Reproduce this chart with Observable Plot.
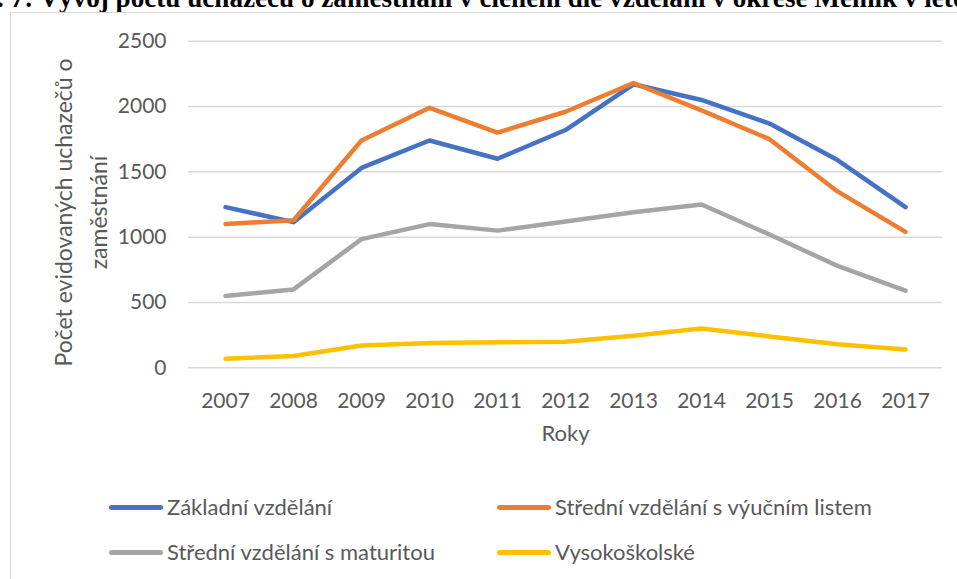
<!DOCTYPE html>
<html><head><meta charset="utf-8">
<script src="https://cdn.jsdelivr.net/npm/d3@7"></script>
<script src="https://cdn.jsdelivr.net/npm/@observablehq/plot@0.6"></script>
<style>
body{margin:0;background:#fff;width:957px;height:579px;overflow:hidden;position:relative;font-family:Lato,sans-serif;}
#titlebox{position:absolute;left:0;top:0;width:957px;height:30px;overflow:hidden;}
#title{position:absolute;white-space:nowrap;font-weight:bold;font-family:"Liberation Serif",serif;color:#000;}
#frame{position:absolute;left:10px;top:12px;width:1000px;height:600px;border-left:1.5px solid #d9d9d9;border-top:1.5px solid #d9d9d9;}
#chart{position:absolute;left:0;top:20px;}
.item{position:absolute;display:flex;align-items:center;font-size:22px;line-height:26px;color:#595959;white-space:nowrap;font-family:Lato,sans-serif;}
.sw{width:54px;height:5px;border-radius:3px;margin-right:4px;}
</style>
</head><body>
<div id="titlebox"><div id="title"></div></div>
<div id="frame"></div>
<div id="chart"></div>
<div id="legend"></div>
<script>
const titlePrefix = "č. 7: ";
const titleMain = "Vývoj počtu uchazečů o zaměstnání v členění dle vzdělání v okrese ";
const titleEnd = "Mělník v letech 2007–2017";
const years = [2007, 2008, 2009, 2010, 2011, 2012, 2013, 2014, 2015, 2016, 2017];
const seriesNames = ["Základní vzdělání", "Střední vzdělání s výučním listem", "Střední vzdělání s maturitou", "Vysokoškolské"];
const colors = ["#4472C4", "#ED7D31", "#A5A5A5", "#FFC000"];
const zakladni = [1230, 1115, 1530, 1740, 1600, 1820, 2170, 2050, 1870, 1590, 1230];
const vyucni   = [1100, 1130, 1740, 1990, 1800, 1960, 2180, 1970, 1750, 1350, 1040];
const maturita = [550, 600, 985, 1100, 1050, 1120, 1190, 1250, 1020, 780, 590];
const vysoka   = [70, 90, 170, 190, 195, 200, 245, 300, 240, 180, 140];
const yTicks = [0, 500, 1000, 1500, 2000, 2500];
const xTitle = "Roky";
const yTitle = "Počet evidovaných uchazečů o\nzaměstnání";

// title layout: fit so that "Vývoj" starts near x=40 and "Mělník" near x=815, baseline near y=8
(function () {
  const ctx = document.createElement("canvas").getContext("2d");
  ctx.font = 'bold 100px "Liberation Serif", serif';
  const mMain = ctx.measureText(titleMain);
  const mPre = ctx.measureText(titlePrefix);
  const fs = 100 * 775 / mMain.width;
  const A = (mMain.fontBoundingBoxAscent || 89.1) * fs / 100;
  const D = (mMain.fontBoundingBoxDescent || 21.6) * fs / 100;
  const t = document.getElementById("title");
  t.textContent = titlePrefix + titleMain + titleEnd;
  t.style.fontSize = fs + "px";
  t.style.lineHeight = fs + "px";
  const baseline = (fs - (A + D)) / 2 + A;
  t.style.top = (8 - baseline) + "px";
  t.style.left = (40 - mPre.width * fs / 100) + "px";
})();

const seriesValues = [zakladni, vyucni, maturita, vysoka];
const rows = [];
seriesValues.forEach((vals, i) => vals.forEach((v, j) => rows.push({series: seriesNames[i], year: years[j], value: v})));

const chart = Plot.plot({
  width: 957, height: 440,
  marginLeft: 188, marginRight: 15, marginTop: 20.7, marginBottom: 92.7,
  style: {fontFamily: "Lato, sans-serif", fontSize: "21px", color: "#595959", background: "transparent", overflow: "visible"},
  x: {type: "point", domain: years, padding: 0.5, label: null, tickSize: 0, tickPadding: 25, tickFormat: d => String(d)},
  y: {domain: [0, 2500], ticks: yTicks, tickFormat: d3.format("d"), label: null, tickSize: 0, tickPadding: 22},
  color: {domain: seriesNames, range: colors},
  marks: [
    Plot.ruleY(yTicks, {stroke: "#d9d9d9", strokeWidth: 1.5}),
    Plot.line(rows, {x: "year", y: "value", z: "series", stroke: "series", strokeWidth: 4.5, strokeLinejoin: "round", strokeLinecap: "round"}),
    Plot.text([xTitle], {frameAnchor: "bottom", dy: 73, fill: "#595959", fontSize: 22}),
    Plot.text([yTitle], {frameAnchor: "left", textAnchor: "middle", rotate: -90, dx: -110, dy: 8, lineHeight: 1.5, fill: "#595959", fontSize: 23})
  ]
});
document.getElementById("chart").appendChild(chart);

const legend = document.getElementById("legend");
const cols = [109, 497], rowsY = [507, 552];
seriesNames.forEach((name, i) => {
  const el = document.createElement("div");
  el.className = "item";
  el.style.left = cols[i % 2] + "px";
  el.style.top = (rowsY[Math.floor(i / 2)] - 13) + "px";
  el.innerHTML = `<span class="sw" style="background:${colors[i]}"></span><span>${name}</span>`;
  legend.appendChild(el);
});
</script>
</body></html>
